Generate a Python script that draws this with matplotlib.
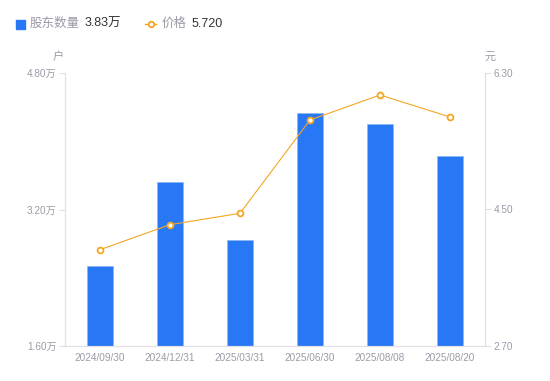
import matplotlib.pyplot as plt
from matplotlib.lines import Line2D
from matplotlib.patches import Rectangle

plt.rcParams['font.family'] = ['Liberation Sans', 'Noto Sans CJK SC', 'DejaVu Sans']

dates = ['2024/09/30', '2024/12/31', '2025/03/31', '2025/06/30', '2025/08/08', '2025/08/20']
holders = [2.54, 3.52, 2.84, 4.33, 4.20, 3.83]   # 万户
price = [3.97, 4.30, 4.45, 5.68, 6.01, 5.72]     # 元
left_ticks = [1.60, 3.20, 4.80]
right_ticks = [2.70, 4.50, 6.30]

blue = '#2878F5'
orange = '#F5A623'
gray = '#9a9aa8'
axis_c = '#e0e0e6'

fig = plt.figure(figsize=(5.5, 3.81), dpi=100)
ax = fig.add_axes([65 / 550, 35 / 381, 420 / 550, 273 / 381])
x = list(range(len(dates)))

ax.bar(x, holders, width=0.36, color=blue, edgecolor='#8db8f7', linewidth=0.6, bottom=0)
ax.set_ylim(1.60, 4.80)
ax.set_xlim(-0.5, 5.5)
ax.set_yticks(left_ticks)
ax.set_yticklabels([f'{v:.2f}万' for v in left_ticks])
ax.set_xticks(x)
ax.set_xticklabels(dates)

ax2 = ax.twinx()
ax2.plot(x, price, color=orange, linewidth=0.8, marker='o', markersize=4.2,
         markerfacecolor='white', markeredgecolor=orange, markeredgewidth=1.3)
ax2.set_ylim(2.70, 6.30)
ax2.set_yticks(right_ticks)
ax2.set_yticklabels([f'{v:.2f}' for v in right_ticks])

for a in (ax, ax2):
    a.spines['top'].set_visible(False)
    for s in ('left', 'right', 'bottom'):
        a.spines[s].set_color(axis_c)
        a.spines[s].set_linewidth(0.8)
    a.tick_params(axis='y', colors=axis_c, labelcolor=gray, labelsize=7.2, length=4, width=0.8, pad=2)
ax.tick_params(axis='x', length=0, labelcolor=gray, labelsize=7.2, pad=5)

fig.text(58 / 550, 1 - 57 / 381, '户', color=gray, fontsize=8, ha='center', va='center')
fig.text(490 / 550, 1 - 57 / 381, '元', color=gray, fontsize=8, ha='center', va='center')

# legend
fig.patches.append(Rectangle((16 / 550, 1 - 29 / 381), 9 / 550, 9 / 381, transform=fig.transFigure,
                             color=blue, figure=fig))
fig.text(30 / 550, 1 - 24 / 381, '股东数量', color=gray, fontsize=9, va='center')
fig.text(85 / 550, 1 - 24 / 381, '3.83万', color='#333333', fontsize=9, va='center')
fig.lines.append(Line2D([145 / 550, 156 / 550], [1 - 24 / 381, 1 - 24 / 381], transform=fig.transFigure,
                        color=orange, linewidth=1, figure=fig))
fig.lines.append(Line2D([150.5 / 550], [1 - 24 / 381], transform=fig.transFigure, color=orange,
                        marker='o', markersize=4, markerfacecolor='white', markeredgewidth=1.3, figure=fig))
fig.text(162 / 550, 1 - 24 / 381, '价格', color=gray, fontsize=9, va='center')
fig.text(192 / 550, 1 - 24 / 381, '5.720', color='#333333', fontsize=9, va='center')

fig.savefig('out.png', dpi=100)
